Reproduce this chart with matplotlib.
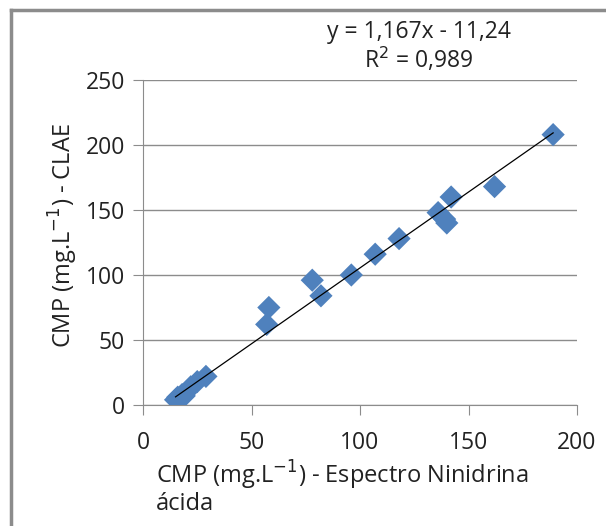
import numpy as np
import matplotlib.pyplot as plt
from matplotlib.lines import Line2D

# CMP values
x_nin = [15, 16, 17, 18, 19, 20, 22, 25, 29, 57, 58, 78, 82, 96, 107, 118, 136, 139, 140, 142, 162, 189]
y_clae = [4, 6, 5, 8, 7, 10, 14, 18, 22, 62, 75, 96, 84, 100, 116, 128, 148, 143, 140, 160, 168, 208]
slope, intercept = 1.167, -11.24
eq_text = "y = 1,167x - 11,24\nR$^2$ = 0,989"

plt.rcParams['font.family'] = ['Open Sans', 'DejaVu Sans']

fig = plt.figure(figsize=(6.06, 5.26), dpi=100)
ax = fig.add_axes([143/606, 1 - 405/526, (577 - 143)/606, (405 - 80)/526])

ax.scatter(x_nin, y_clae, marker='D', s=140, color='#4f81bd', edgecolors='none', zorder=3)
xl = np.array([min(x_nin), max(x_nin)])
ax.plot(xl, slope*xl + intercept, color='black', lw=0.9, zorder=4)

ax.set_xlim(0, 200)
ax.set_ylim(0, 250)
ax.set_xticks(range(0, 201, 50))
ax.set_yticks(range(0, 251, 50))
ax.yaxis.grid(True, color='#8c8c8c', lw=1)
ax.set_axisbelow(True)
for s in ['top', 'right']:
    ax.spines[s].set_visible(False)
for s in ['left', 'bottom']:
    ax.spines[s].set_color('#8c8c8c')
ax.tick_params(direction='out', length=7, color='#8c8c8c', labelsize=16.5, labelcolor='#222222')
ax.tick_params(axis='x', pad=12)
ax.tick_params(axis='y', pad=6)

fig.text(63/606, 1 - 236/526, "CMP (mg.L$^{-1}$) - CLAE", rotation=90, ha='center', va='center',
         fontsize=17, color='#222222')
fig.text(156/606, 1 - 487/526, "CMP (mg.L$^{-1}$) - Espectro Ninidrina\nácida", ha='left', va='center',
         fontsize=17, color='#222222', linespacing=1.0)
fig.text(419/606, 1 - 47/526, eq_text, ha='center', va='center', fontsize=16.5, color='#222222',
         linespacing=1.1)

# outer chart frame (left and top edges visible)
fig.add_artist(Line2D([11/606, 11/606], [0, 1 - 10/526], transform=fig.transFigure, color='#8c8c8c', lw=2.5))
fig.add_artist(Line2D([11/606, 1], [1 - 10/526, 1 - 10/526], transform=fig.transFigure, color='#8c8c8c', lw=2.5))

fig.savefig('out.png', dpi=100)
